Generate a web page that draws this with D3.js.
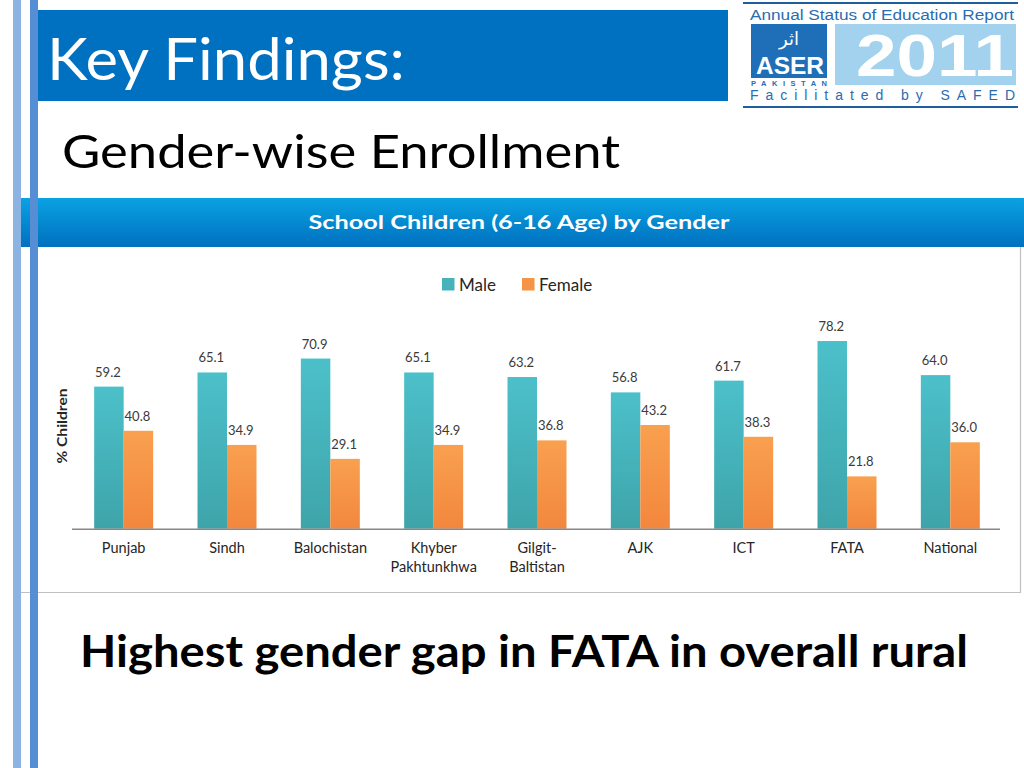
<!DOCTYPE html>
<html>
<head>
<meta charset="utf-8">
<script src="https://cdn.jsdelivr.net/npm/d3@7"></script>
<style>
  html, body { margin: 0; padding: 0; background: #fff; }
  svg { display: block; }
</style>
</head>
<body>
<div id="slide"></div>
<script>
// chart data
const regions = ["Punjab", "Sindh", "Balochistan", "Khyber Pakhtunkhwa", "Gilgit-Baltistan", "AJK", "ICT", "FATA", "National"];
const regionLines = [["Punjab"], ["Sindh"], ["Balochistan"], ["Khyber", "Pakhtunkhwa"], ["Gilgit-", "Baltistan"], ["AJK"], ["ICT"], ["FATA"], ["National"]];
const seriesNames = ["Male", "Female"];
const maleValues = [59.2, 65.1, 70.9, 65.1, 63.2, 56.8, 61.7, 78.2, 64.0];
const femaleValues = [40.8, 34.9, 29.1, 34.9, 36.8, 43.2, 38.3, 21.8, 36.0];

const W = 1024, H = 768;
const font = "Lato, 'Open Sans', sans-serif";
const logoFont = "'Liberation Sans', Arial, sans-serif";

let svg = d3.select('#slide')
    .append('svg')
    .attr('width', W)
    .attr('height', H)
    .attr('viewBox', [0, 0, W, H].join(' '));

let defs = svg.append('defs');

// gradients: chart header band and the two bar colours
function vGrad(id, top, bottom) {
    let g = defs.append('linearGradient')
        .attr('id', id)
        .attr('x1', 0).attr('y1', 0).attr('x2', 0).attr('y2', 1);
    g.append('stop').attr('offset', '0%').attr('stop-color', top);
    g.append('stop').attr('offset', '100%').attr('stop-color', bottom);
}
vGrad('band-grad', '#0aa2e2', '#0070bf');
vGrad('male-grad', '#4cc0ca', '#3ea4aa');
vGrad('female-grad', '#f9a04f', '#f2873d');

svg.append('rect').attr('width', W).attr('height', H).attr('fill', '#fff');

// title banner
svg.append('rect')
    .attr('x', 34).attr('y', 10)
    .attr('width', 694).attr('height', 91)
    .attr('fill', '#0070c0');

svg.append('text')
    .attr('x', 47).attr('y', 80)
    .attr('font-family', font)
    .attr('font-size', 58)
    .attr('fill', '#fff')
    .attr('textLength', 358)
    .attr('lengthAdjust', 'spacingAndGlyphs')
    .text('Key Findings:');

svg.append('text')
    .attr('x', 62).attr('y', 168)
    .attr('font-family', font)
    .attr('font-size', 46)
    .attr('fill', '#000')
    .attr('textLength', 558)
    .attr('lengthAdjust', 'spacingAndGlyphs')
    .text('Gender-wise Enrollment');

// ASER logo, top right
let logo = svg.append('g');
logo.append('line').attr('x1', 743).attr('x2', 1018).attr('y1', 3).attr('y2', 3)
    .attr('stroke', '#1f5f9f').attr('stroke-width', 2);
logo.append('line').attr('x1', 743).attr('x2', 1018).attr('y1', 107).attr('y2', 107)
    .attr('stroke', '#1f5f9f').attr('stroke-width', 2);
logo.append('text')
    .attr('x', 750).attr('y', 20)
    .attr('font-family', logoFont)
    .attr('font-size', 15.5)
    .attr('fill', '#2a6cb0')
    .attr('textLength', 264)
    .attr('lengthAdjust', 'spacingAndGlyphs')
    .text('Annual Status of Education Report');
logo.append('rect').attr('x', 751).attr('y', 24).attr('width', 76).attr('height', 54).attr('fill', '#1e6eb8');
logo.append('text')
    .attr('x', 789).attr('y', 45)
    .attr('text-anchor', 'middle')
    .attr('font-family', "'DejaVu Sans', sans-serif")
    .attr('font-size', 18)
    .attr('fill', '#fff')
    .text('اثر');
logo.append('text')
    .attr('x', 790).attr('y', 74)
    .attr('text-anchor', 'middle')
    .attr('font-family', logoFont)
    .attr('font-weight', 'bold')
    .attr('font-size', 23)
    .attr('fill', '#fff')
    .attr('textLength', 68)
    .attr('lengthAdjust', 'spacingAndGlyphs')
    .text('ASER');
logo.append('text')
    .attr('x', 751).attr('y', 86)
    .attr('font-family', logoFont)
    .attr('font-weight', 'bold')
    .attr('font-size', 7.5)
    .attr('fill', '#1e6eb8')
    .attr('textLength', 76)
    .text('PAKISTAN');
logo.append('rect').attr('x', 835).attr('y', 24).attr('width', 181).attr('height', 61).attr('fill', '#a2d2ed');
logo.append('text')
    .attr('x', 856).attr('y', 76)
    .attr('font-family', logoFont)
    .attr('font-weight', 'bold')
    .attr('font-size', 60)
    .attr('fill', '#fff')
    .attr('textLength', 158)
    .attr('lengthAdjust', 'spacingAndGlyphs')
    .text('2011');
logo.append('text')
    .attr('x', 750).attr('y', 100)
    .attr('font-family', logoFont)
    .attr('font-size', 14)
    .attr('fill', '#2a6cb0')
    .attr('textLength', 265)
    .text('Facilitated  by  SAFED');

// chart panel: header band + frame
svg.append('rect')
    .attr('x', 21).attr('y', 198)
    .attr('width', 1003).attr('height', 49)
    .attr('fill', 'url(#band-grad)');
svg.append('text')
    .attr('x', 519).attr('y', 229)
    .attr('text-anchor', 'middle')
    .attr('font-family', font)
    .attr('font-weight', 'bold')
    .attr('font-size', 19)
    .attr('fill', '#fff')
    .attr('textLength', 421)
    .attr('lengthAdjust', 'spacingAndGlyphs')
    .text('School Children (6-16 Age) by Gender');
svg.append('path')
    .attr('d', 'M21,592.5 H1020.5 V247')
    .attr('fill', 'none')
    .attr('stroke', '#c0c0c0')
    .attr('stroke-width', 1.2);

// scales
let x = d3.scaleBand()
    .domain(regions)
    .range([72, 1002])
    .padding(0);
let barW = 29.5;
let xSub = d3.scaleBand()
    .domain(seriesNames)
    .range([x.bandwidth() / 2 - barW, x.bandwidth() / 2 + barW]);
let y = d3.scaleLinear()
    .domain([0, 90])
    .range([528.7, 312.7]);

let color = d3.scaleOrdinal()
    .domain(seriesNames)
    .range(['url(#male-grad)', 'url(#female-grad)']);
let swatch = d3.scaleOrdinal()
    .domain(seriesNames)
    .range(['#46b3bb', '#f59346']);

let rows = regions.map((r, i) => ({
    region: r,
    lines: regionLines[i],
    values: [
        { key: 'Male', value: maleValues[i] },
        { key: 'Female', value: femaleValues[i] }
    ]
}));

let plot = svg.append('g');

// bars, grouped by region
let groups = plot.selectAll('g.grp')
    .data(rows)
    .enter().append('g')
    .attr('class', 'grp')
    .attr('transform', d => 'translate(' + x(d.region) + ',0)');

groups.selectAll('rect')
    .data(d => d.values)
    .enter().append('rect')
    .attr('x', d => xSub(d.key))
    .attr('y', d => y(d.value))
    .attr('width', xSub.bandwidth())
    .attr('height', d => y(0) - y(d.value))
    .attr('fill', d => color(d.key));

groups.selectAll('text.val')
    .data(d => d.values)
    .enter().append('text')
    .attr('class', 'val')
    .attr('x', d => xSub(d.key) + xSub.bandwidth() / 2 - 1)
    .attr('y', d => y(d.value) - 10)
    .attr('text-anchor', 'middle')
    .attr('font-family', font)
    .attr('font-size', 13)
    .attr('fill', '#3a3a3a')
    .text(d => d.value.toFixed(1));

// x axis with multi-line category labels
let xAxis = plot.append('g')
    .attr('transform', 'translate(0,' + y(0) + ')')
    .call(d3.axisBottom(x).tickSize(0).tickFormat(''));
xAxis.select('.domain')
    .attr('d', 'M72,0.5H1000')
    .attr('stroke', '#878787')
    .attr('stroke-width', 1.5);
xAxis.selectAll('.tick text').remove();
xAxis.selectAll('.tick')
    .data(rows)
    .append('text')
    .attr('text-anchor', 'middle')
    .attr('font-family', font)
    .attr('font-size', 14.5)
    .attr('fill', '#262626')
    .selectAll('tspan')
    .data(d => d.lines)
    .enter().append('tspan')
    .attr('x', 0)
    .attr('y', (d, i) => 24 + i * 19)
    .text(d => d);

// y axis title
plot.append('text')
    .attr('transform', 'translate(67,426) rotate(-90)')
    .attr('text-anchor', 'middle')
    .attr('font-family', font)
    .attr('font-weight', 'bold')
    .attr('font-size', 14)
    .attr('fill', '#262626')
    .attr('textLength', 75)
    .attr('lengthAdjust', 'spacingAndGlyphs')
    .text('% Children');

// legend
let legendX = [442, 522];
let legend = plot.selectAll('g.leg')
    .data(seriesNames)
    .enter().append('g')
    .attr('class', 'leg')
    .attr('transform', (d, i) => 'translate(' + legendX[i] + ',278)');
legend.append('rect')
    .attr('width', 12.5)
    .attr('height', 12.5)
    .attr('fill', d => swatch(d));
legend.append('text')
    .attr('x', 17)
    .attr('y', 12.5)
    .attr('font-family', font)
    .attr('font-size', 17)
    .attr('fill', '#262626')
    .text(d => d);

// left decorative rules
svg.append('rect').attr('x', 13).attr('y', 0).attr('width', 8).attr('height', H).attr('fill', '#8db3e2');
svg.append('rect').attr('x', 30).attr('y', 0).attr('width', 8).attr('height', H).attr('fill', '#558ed5');

// takeaway line
svg.append('text')
    .attr('x', 80).attr('y', 667)
    .attr('font-family', font)
    .attr('font-weight', 'bold')
    .attr('font-size', 44)
    .attr('fill', '#000')
    .attr('textLength', 888)
    .attr('lengthAdjust', 'spacingAndGlyphs')
    .text('Highest gender gap in FATA in overall rural');
</script>
</body>
</html>
